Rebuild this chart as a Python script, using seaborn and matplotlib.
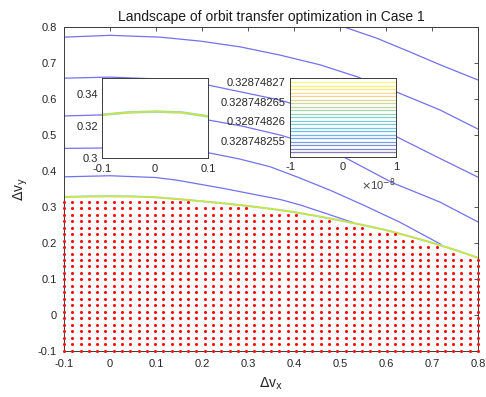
import numpy as np
import pandas as pd
import matplotlib
matplotlib.use("Agg")
import matplotlib.pyplot as plt
import seaborn as sns

# ---------------- data ----------------
line_A_x = [-0.1, 0.0, 0.109, 0.196, 0.283, 0.37, 0.457, 0.537, 0.622, 0.717, 0.804]
line_A_y = [0.771, 0.776, 0.771, 0.760, 0.744, 0.721, 0.694, 0.661, 0.619, 0.569, 0.513]
line_B_x = [0.507, 0.58, 0.65, 0.72, 0.8]
line_B_y = [0.800, 0.768, 0.731, 0.693, 0.652]
line_C_x = [-0.1, 0.0, 0.1, 0.213, 0.28, 0.37, 0.45, 0.54, 0.622, 0.7, 0.8]
line_C_y = [0.657, 0.660, 0.655, 0.638, 0.620, 0.596, 0.565, 0.530, 0.495, 0.445, 0.382]
line_D_x = [-0.1, -0.017, 0.1, 0.213, 0.29, 0.37, 0.44, 0.507, 0.615, 0.717, 0.804]
line_D_y = [0.552, 0.555, 0.551, 0.541, 0.523, 0.499, 0.472, 0.439, 0.366, 0.313, 0.255]
line_E_x = [-0.1, -0.017, 0.1, 0.213, 0.28, 0.348, 0.41, 0.478, 0.55, 0.63, 0.72]
line_E_y = [0.462, 0.463, 0.460, 0.450, 0.433, 0.411, 0.381, 0.346, 0.305, 0.257, 0.195]
line_F_x = [-0.1, 0.0, 0.1, 0.144, 0.25, 0.37, 0.413, 0.47, 0.528]
line_F_y = [0.383, 0.386, 0.381, 0.374, 0.350, 0.320, 0.305, 0.281, 0.256]

boundary_x = [-0.1, -0.05, 0.0, 0.05, 0.1, 0.15, 0.2, 0.25, 0.3, 0.35,
              0.4, 0.45, 0.5, 0.55, 0.6, 0.65, 0.7, 0.75, 0.8]
boundary_y = [0.327, 0.3285, 0.329, 0.3285, 0.326, 0.321, 0.315, 0.309, 0.302, 0.294,
              0.285, 0.274, 0.262, 0.249, 0.235, 0.218, 0.200, 0.180, 0.158]

grid_x = np.round(np.arange(-0.1, 0.8001, 0.018), 4)
grid_y = np.round(np.arange(-0.1, 0.8001, 0.018), 4)

zoom_levels = [0.328748252, 0.3287482529, 0.3287482538, 0.3287482547, 0.3287482556,
               0.3287482565, 0.3287482574, 0.3287482583, 0.3287482592, 0.3287482601,
               0.328748261, 0.3287482619, 0.3287482628, 0.3287482637, 0.3287482646,
               0.3287482655, 0.3287482664, 0.3287482673, 0.3287482682, 0.3287482691,
               0.32874827]

main_ticks = [-0.1, 0, 0.1, 0.2, 0.3, 0.4, 0.5, 0.6, 0.7, 0.8]
main_ticklabels = ["-0.1", "0", "0.1", "0.2", "0.3", "0.4", "0.5", "0.6", "0.7", "0.8"]
in1_yticks = [0.3, 0.32, 0.34]
in1_yticklabels = ["0.3", "0.32", "0.34"]
in1_xticks = [-0.1, 0, 0.1]
in1_xticklabels = ["-0.1", "0", "0.1"]
in2_yticks = [0.328748255, 0.32874826, 0.328748265, 0.32874827]
in2_yticklabels = ["0.328748255", "0.32874826", "0.328748265", "0.32874827"]
in2_xticks = [-1e-8, 0, 1e-8]
in2_xticklabels = ["-1", "0", "1"]

# ---------------- style ----------------
sns.set_style("white")
plt.rcParams["font.family"] = ["Liberation Sans", "DejaVu Sans"]
plt.rcParams["font.size"] = 8

BLUE = "#7272ee"
FRAME = "#3a3a3a"

def style_axes(ax, xpad=6, ypad=5):
    for s in ax.spines.values():
        s.set_color(FRAME)
        s.set_linewidth(0.7)
        s.set_visible(True)
    ax.tick_params(direction="in", length=3, width=0.6, color=FRAME,
                   top=True, right=True, labelsize=8, labelcolor="#262626")
    ax.tick_params(axis="x", pad=xpad)
    ax.tick_params(axis="y", pad=ypad)

def parula_like(n):
    anchors = np.array([
        [0.2081, 0.1663, 0.5292],
        [0.0780, 0.3800, 0.8800],
        [0.0700, 0.6200, 0.8600],
        [0.1900, 0.7200, 0.6300],
        [0.5900, 0.7500, 0.3500],
        [0.9900, 0.7300, 0.2400],
        [0.9763, 0.9831, 0.0538],
    ])
    t = np.linspace(0, 1, len(anchors))
    out = []
    for v in np.linspace(0, 1, n):
        c = np.array([np.interp(v, t, anchors[:, k]) for k in range(3)])
        c = c * 0.6 + 0.4
        out.append(tuple(c))
    return out

fig = plt.figure(figsize=(4.86, 3.97), dpi=100)
ax = fig.add_axes([64 / 486, 46.3 / 397, 414 / 486, 324 / 397])

# contour lines
rows = []
for name, xs, ys in [("A", line_A_x, line_A_y), ("B", line_B_x, line_B_y),
                     ("C", line_C_x, line_C_y), ("D", line_D_x, line_D_y),
                     ("E", line_E_x, line_E_y), ("F", line_F_x, line_F_y)]:
    for i, (xv, yv) in enumerate(zip(xs, ys)):
        rows.append({"line": name, "x": xv, "y": yv, "order": i})
contours = pd.DataFrame(rows)
sns.lineplot(data=contours, x="x", y="y", units="line", estimator=None,
             sort=False, color=BLUE, linewidth=0.9, ax=ax)

bnd = pd.DataFrame({"x": boundary_x, "y": boundary_y})
sns.lineplot(data=bnd, x="x", y="y", sort=False, estimator=None,
             color="#9ad3ea", linewidth=1.5, ax=ax)
sns.lineplot(data=bnd, x="x", y="y", sort=False, estimator=None,
             color="#d6e81c", linewidth=1.0, ax=ax)

# feasible grid points
gx, gy = np.meshgrid(grid_x, grid_y)
gx = gx.ravel(); gy = gy.ravel()
mask = gy <= np.interp(gx, boundary_x, boundary_y) - 0.004
pts = pd.DataFrame({"x": gx[mask], "y": gy[mask]})
sns.scatterplot(data=pts, x="x", y="y", color="#ff1010", s=5, linewidth=0,
                marker="o", ax=ax, zorder=3, clip_on=False)

ax.set_xlim(-0.1, 0.8)
ax.set_ylim(-0.1, 0.8)
ax.set_xticks(main_ticks)
ax.set_xticklabels(main_ticklabels)
ax.set_yticks(main_ticks)
ax.set_yticklabels(main_ticklabels)
style_axes(ax, xpad=6, ypad=5)
ax.set_xlabel(r"$\Delta$v$_\mathrm{x}$", fontsize=10, labelpad=5)
ax.set_ylabel(r"$\Delta$v$_\mathrm{y}$", fontsize=10, labelpad=6)
ax.set_title("Landscape of orbit transfer optimization in Case 1",
             fontsize=10, pad=4, color="#1a1a1a")

# inset 1
ax1 = fig.add_axes([102 / 486, 239 / 397, 106 / 486, 80 / 397])
ax1.set_facecolor("white")
sns.lineplot(data=bnd, x="x", y="y", sort=False, estimator=None,
             color="#8fd0ec", linewidth=1.8, ax=ax1)
sns.lineplot(data=bnd, x="x", y="y", sort=False, estimator=None,
             color="#d8ea10", linewidth=1.0, ax=ax1)
ax1.set_xlim(-0.1, 0.1)
ax1.set_ylim(0.3, 0.35)
ax1.set_xticks(in1_xticks)
ax1.set_xticklabels(in1_xticklabels)
ax1.set_yticks(in1_yticks)
ax1.set_yticklabels(in1_yticklabels)
ax1.set_xlabel(""); ax1.set_ylabel("")
style_axes(ax1, xpad=4, ypad=3)
ax1.tick_params(top=False, right=False)

# inset 2
ax2 = fig.add_axes([290 / 486, 240.3 / 397, 106 / 486, 79 / 397])
ax2.set_facecolor("white")
lv_rows = []
for lv in zoom_levels:
    for xv in (-1e-8, 1e-8):
        lv_rows.append({"level": lv, "x": xv, "y": lv})
lvdf = pd.DataFrame(lv_rows)
sns.lineplot(data=lvdf, x="x", y="y", hue="level", units="level",
             estimator=None, palette=parula_like(len(zoom_levels)),
             linewidth=0.9, legend=False, ax=ax2)
ax2.set_xlim(-1e-8, 1e-8)
ax2.set_ylim(0.3287482509, 0.3287482711)
ax2.set_xticks(in2_xticks)
ax2.set_xticklabels(in2_xticklabels)
ax2.set_yticks(in2_yticks)
ax2.set_yticklabels(in2_yticklabels)
ax2.set_xlabel(""); ax2.set_ylabel("")
style_axes(ax2, xpad=4, ypad=3)
ax2.tick_params(top=False, right=False)
ax2.text(1.0, -0.36, r"$\times$10$^{-8}$", transform=ax2.transAxes,
         ha="right", va="center", fontsize=8, color="#404040")

fig.savefig("out.png", dpi=100)
